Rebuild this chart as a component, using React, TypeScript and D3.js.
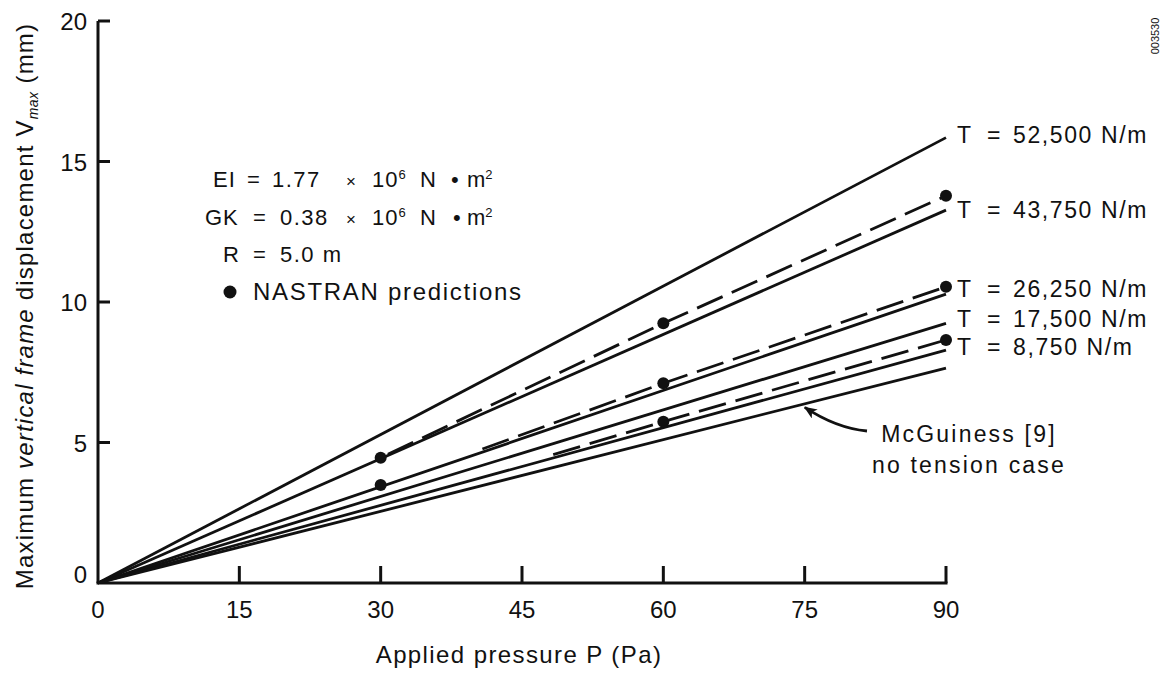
import React from 'react';
import * as d3 from 'd3';

// ---------- data ----------
const xTicks = [0, 15, 30, 45, 60, 75, 90];
const yTicks = [0, 5, 10, 15, 20];
// solid analytical curves: value of V_max (mm) at P = 90 Pa, each starts at the origin
const solidNames = ['T=52,500', 'T=43,750', 'T=26,250', 'T=17,500', 'T=8,750', 'McGuiness'];
const solidAt90 = [15.85, 13.27, 10.28, 9.24, 8.29, 7.65];
// dashed curves through NASTRAN predictions
const dashed43750: [number, number][] = [[30, 4.46], [60, 9.24], [90, 13.78]];
const dashed26250: [number, number][] = [[40, 4.67], [60, 7.11], [90, 10.54]];
const dashed8750: [number, number][] = [[47.5, 4.49], [60, 5.74], [90, 8.65]];
// NASTRAN prediction points
const nastranP = [30, 30, 60, 60, 60, 90, 90, 90];
const nastranV = [4.46, 3.49, 9.24, 7.11, 5.74, 13.78, 10.54, 8.65];
// right-hand labels
const tensionLabels = ['52,500 N/m', '43,750 N/m', '26,250 N/m', '17,500 N/m', '8,750 N/m'];

const W = 1165;
const H = 673;
const FONT = "'Liberation Sans', Arial, Helvetica, sans-serif";

export default function App() {
  const x = d3.scaleLinear().domain([0, 90]).range([98, 946]);
  const y = d3.scaleLinear().domain([0, 20]).range([583, 21]);
  const line = d3.line<[number, number]>().x(d => x(d[0])).y(d => y(d[1]));

  const solidLines = solidAt90.map((v, i) => ({ name: solidNames[i], pts: [[0, 0], [90, v]] as [number, number][] }));
  const dashed = [dashed43750, dashed26250, dashed8750];

  // arrow to McGuiness line
  const mcg = solidAt90[5];
  const tipP = 74.8;
  const tipX = x(tipP);
  const tipY = y((mcg * tipP) / 90);

  const labelYs = [143, 218, 297, 327, 355];

  return (
    <svg width={W} height={H} style={{ position: 'absolute', left: 0, top: 0, background: '#fff' }} fontFamily={FONT}>
      <rect x={0} y={0} width={W} height={H} fill="#fff" />
      <defs>
        <marker id="arr" viewBox="0 0 12 10" refX="11" refY="5" markerWidth="13" markerHeight="11" markerUnits="userSpaceOnUse" orient="auto">
          <path d="M0,0 L12,5 L0,10 L3,5 Z" fill="#111" />
        </marker>
      </defs>

      {/* axes */}
      <line x1={x(0)} y1={y(20)} x2={x(0)} y2={y(0)} stroke="#111" strokeWidth={3} />
      <line x1={x(0) - 1.5} y1={y(0)} x2={x(90) + 1.5} y2={y(0)} stroke="#111" strokeWidth={3} />
      {yTicks.filter(t => t > 0).map(t => (
        <line key={'yt' + t} x1={x(0)} x2={x(0) + 12} y1={y(t)} y2={y(t)} stroke="#111" strokeWidth={3} />
      ))}
      {xTicks.filter(t => t > 0).map(t => (
        <line key={'xt' + t} x1={x(t)} x2={x(t)} y1={y(0)} y2={y(0) - 17} stroke="#111" strokeWidth={3} />
      ))}
      {yTicks.map(t => (
        <text key={'yl' + t} x={87} y={t === 0 ? y(0) : y(t) + 9} textAnchor="end" fontSize={24} fill="#111">{t}</text>
      ))}
      {xTicks.map(t => (
        <text key={'xl' + t} x={x(t)} y={618} textAnchor="middle" fontSize={24} fill="#111">{t}</text>
      ))}

      {/* axis titles */}
      <text x={519} y={663} textAnchor="middle" fontSize={24} letterSpacing={1.4} fill="#111">Applied pressure P (Pa)</text>
      <text transform="translate(33,306) rotate(-90)" textAnchor="middle" fontSize={24} letterSpacing={1.2} fill="#111">
        <tspan>Maximum </tspan>
        <tspan fontStyle="italic">vertical frame</tspan>
        <tspan> displacement V</tspan>
        <tspan fontSize={14} fontStyle="italic" dy={5} letterSpacing={0.5}>max</tspan>
        <tspan dy={-5}> (mm)</tspan>
      </text>

      {/* solid lines */}
      {solidLines.map(s => (
        <path key={s.name} d={line(s.pts) || ''} fill="none" stroke="#111" strokeWidth={2.8} />
      ))}
      {/* dashed lines */}
      {dashed.map((pts, i) => (
        <path key={'d' + i} d={line(pts) || ''} fill="none" stroke="#111" strokeWidth={2.8} strokeDasharray="28 10" strokeDashoffset={-8} />
      ))}
      {/* NASTRAN points */}
      {nastranP.map((p, i) => (
        <circle key={'n' + i} cx={x(p)} cy={y(nastranV[i])} r={6} fill="#111" />
      ))}

      {/* right labels */}
      {tensionLabels.map((lab, i) => (
        <g key={lab} fontSize={23} fill="#111">
          <text x={957} y={labelYs[i]}>T</text>
          <text x={987} y={labelYs[i]}>=</text>
          <text x={1013} y={labelYs[i]} letterSpacing={1.6}>{lab}</text>
        </g>
      ))}

      {/* legend block */}
      <g fontSize={22} fill="#111">
        <text x={213} y={187} letterSpacing={1}>EI</text>
        <text x={247} y={187}>=</text>
        <text x={272} y={187} letterSpacing={1.5}>1.77</text>
        <text x={346} y={187} fontSize={17}>×</text>
        <text x={372} y={187} letterSpacing={1}>10<tspan fontSize={13} dy={-8}>6</tspan></text>
        <text x={420} y={187}>N</text>
        <text x={451} y={187}>•</text>
        <text x={467} y={187}>m<tspan fontSize={13} dy={-8}>2</tspan></text>

        <text x={205} y={225} letterSpacing={1}>GK</text>
        <text x={253} y={225}>=</text>
        <text x={280} y={225} letterSpacing={1.5}>0.38</text>
        <text x={346} y={225} fontSize={17}>×</text>
        <text x={372} y={225} letterSpacing={1}>10<tspan fontSize={13} dy={-8}>6</tspan></text>
        <text x={420} y={225}>N</text>
        <text x={453} y={225}>•</text>
        <text x={467} y={225}>m<tspan fontSize={13} dy={-8}>2</tspan></text>

        <text x={223} y={262}>R</text>
        <text x={253} y={262}>=</text>
        <text x={280} y={262} letterSpacing={1.5}>5.0 m</text>

        <circle cx={230} cy={292} r={6.5} fill="#111" />
        <text x={253} y={300} fontSize={24} letterSpacing={1.7}>NASTRAN predictions</text>
      </g>

      {/* McGuiness annotation */}
      <path d={`M867,431 Q836,428 ${tipX + 2},${tipY + 3}`} fill="none" stroke="#111" strokeWidth={2.8} markerEnd="url(#arr)" />
      <g fontSize={23} fill="#111" textAnchor="middle" letterSpacing={2.2}>
        <text x={969} y={442}>McGuiness [9]</text>
        <text x={969} y={473}>no tension case</text>
      </g>

      {/* figure id */}
      <text transform="translate(1159,36) rotate(-90)" textAnchor="middle" fontSize={11} fill="#111">003530</text>
    </svg>
  );
}
